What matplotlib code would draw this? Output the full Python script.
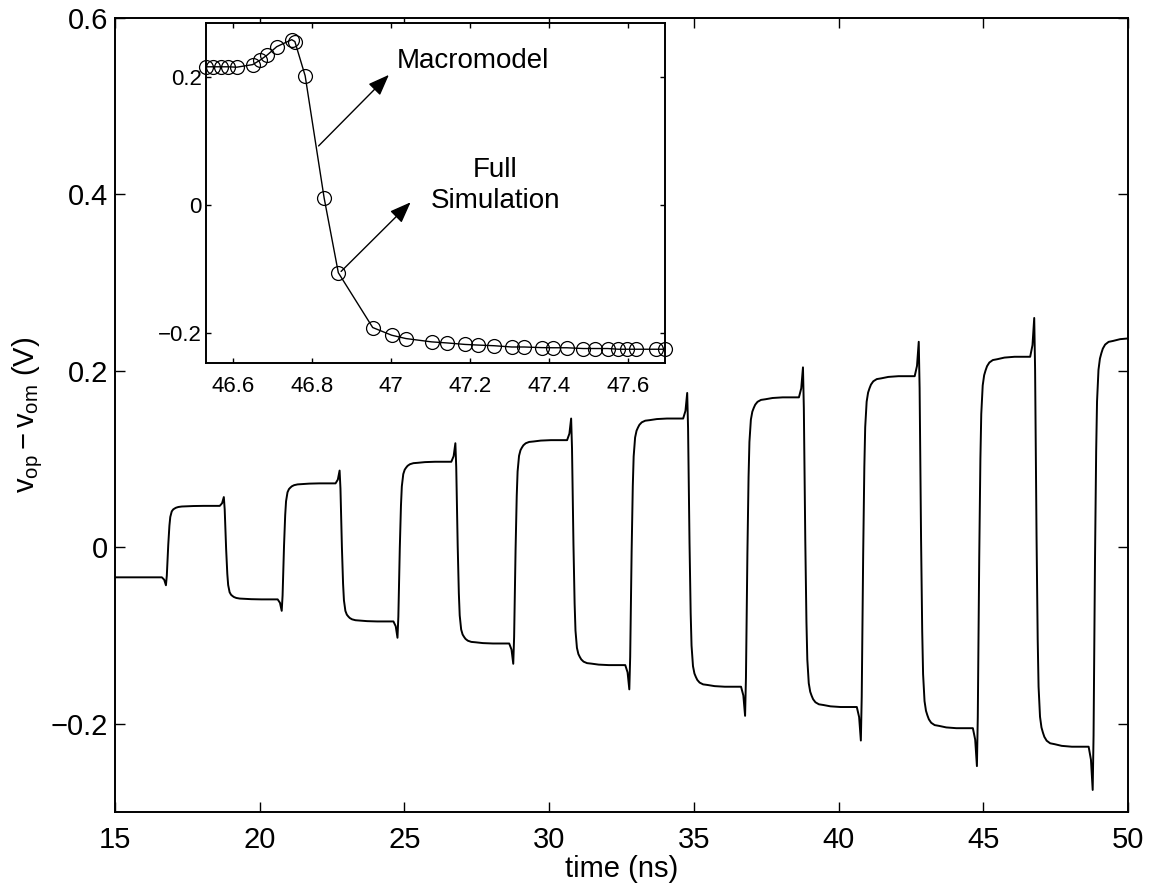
import numpy as np
import matplotlib
matplotlib.use('Agg')
import matplotlib.pyplot as plt

plt.rcParams['font.family'] = ['Liberation Sans', 'DejaVu Sans']
plt.rcParams['mathtext.fontset'] = 'custom'
plt.rcParams['mathtext.rm'] = 'Liberation Sans'
plt.rcParams['mathtext.it'] = 'Liberation Sans'

# main waveform: start level, switching edges, spike at each edge, settled level after it
start_level = -0.034
edge_t = [16.76, 18.76, 20.76, 22.76, 24.76, 26.76, 28.76, 30.76, 32.77,
          34.77, 36.77, 38.77, 40.77, 42.77, 44.78, 46.76, 48.78]
spike_v = [-0.043, 0.057, -0.072, 0.087, -0.1025, 0.118, -0.132, 0.146, -0.161,
           0.175, -0.191, 0.204, -0.219, 0.233, -0.248, 0.260, -0.275]
level_v = [0.047, -0.059, 0.0725, -0.084, 0.097, -0.109, 0.1215, -0.1335, 0.146,
           -0.158, 0.170, -0.181, 0.194, -0.205, 0.216, -0.226, 0.237]

# settling after an edge (ns after spike, fraction of the step done)
settle_dt = [0.03, 0.06, 0.08, 0.10, 0.12, 0.15, 0.20, 0.25, 0.30, 0.35, 0.43,
             0.55, 0.70, 0.95, 1.30, 1.80]
settle_frac = [0.12, 0.36, 0.51, 0.63, 0.75, 0.86, 0.93, 0.955, 0.967, 0.977,
               0.986, 0.992, 0.994, 0.998, 1.0, 1.0]

# inset: zoom on the edge near 46.8 ns
inset_t = [46.532, 46.550, 46.569, 46.588, 46.610, 46.650, 46.669, 46.687, 46.711,
           46.749, 46.757, 46.783, 46.831, 46.867, 46.954, 47.002, 47.038, 47.103,
           47.141, 47.188, 47.221, 47.261, 47.306, 47.338, 47.382, 47.411, 47.445,
           47.487, 47.517, 47.549, 47.576, 47.597, 47.620, 47.670, 47.694]
inset_v = [0.2156, 0.2156, 0.2156, 0.2156, 0.215, 0.219, 0.226, 0.234, 0.247,
           0.258, 0.255, 0.2016, 0.011, -0.106, -0.1916, -0.2036, -0.2088, -0.214,
           -0.2156, -0.218, -0.219, -0.220, -0.222, -0.222, -0.223, -0.2232, -0.2232,
           -0.2244, -0.2244, -0.2244, -0.2255, -0.2255, -0.2255, -0.2255, -0.2255]

main_xticks = [15, 20, 25, 30, 35, 40, 45, 50]
main_yticks = [-0.2, 0, 0.2, 0.4, 0.6]
main_ylabels = ['\u22120.2', '0', '0.2', '0.4', '0.6']
inset_xticks = [46.6, 46.8, 47.0, 47.2, 47.4, 47.6]
inset_xlabels = ['46.6', '46.8', '47', '47.2', '47.4', '47.6']
inset_yticks = [-0.2, 0, 0.2]
inset_ylabels = ['\u22120.2', '0', '0.2']

# build the waveform polyline
t_pts = [15.0]
v_pts = [start_level]
prev = start_level
for k, te in enumerate(edge_t):
	s = spike_v[k]
	new = level_v[k]
	t_pts += [te - 0.14, te - 0.06, te]
	v_pts += [prev, prev + 0.3 * (s - prev), s]
	t_end = edge_t[k + 1] - 0.14 if k + 1 < len(edge_t) else 50.0
	for dt, f in zip(settle_dt, settle_frac):
		if te + dt >= t_end:
			break
		t_pts.append(te + dt)
		v_pts.append(s + f * (new - s))
	if k + 1 == len(edge_t):
		f = np.interp(50.0 - te, settle_dt, settle_frac)
		t_pts.append(50.0)
		v_pts.append(s + f * (new - s))
	prev = new

fig = plt.figure(figsize=(11.6, 8.9), dpi=100)
ax = fig.add_axes([115 / 1160, 78 / 890, 1013 / 1160, 794 / 890])
ax.plot(t_pts, v_pts, color='k', lw=1.4)
ax.set_xlim(15, 50)
ax.set_ylim(-0.3, 0.6)
ax.set_xticks(main_xticks)
ax.set_yticks(main_yticks)
ax.set_yticklabels(main_ylabels)
ax.tick_params(direction='in', length=7, width=1, top=True, right=True, labelsize=21)
ax.tick_params(axis='x', pad=10)
ax.tick_params(axis='y', pad=5)
for sp in ax.spines.values():
	sp.set_linewidth(1.4)
ax.set_xlabel('time (ns)', fontsize=21, labelpad=1)
ax.set_ylabel(r'$\mathregular{v_{op} - v_{om}}$ (V)', fontsize=21, labelpad=4)

# inset
axi = fig.add_axes([206 / 1160, 527 / 890, 459 / 1160, 340 / 890])
axi.set_facecolor('white')
axi.plot(inset_t, inset_v, color='k', lw=1.0)
axi.plot(inset_t, inset_v, 'o', color='k', mfc='none', ms=10, mew=0.9, clip_on=False)
axi.set_xlim(46.532, 47.694)
axi.set_ylim(-0.247, 0.284)
axi.set_xticks(inset_xticks)
axi.set_xticklabels(inset_xlabels)
axi.set_yticks(inset_yticks)
axi.set_yticklabels(inset_ylabels)
axi.tick_params(direction='in', length=3.5, width=1, top=True, right=True, labelsize=16)
axi.tick_params(axis='x', pad=9)
axi.tick_params(axis='y', pad=3)
for sp in axi.spines.values():
	sp.set_linewidth(1.4)

arrow_kw = dict(arrowstyle='-|>,head_length=0.65,head_width=0.25', mutation_scale=20,
                color='k', lw=1.0, shrinkA=0, shrinkB=0)
axi.annotate('', xy=(46.995, 0.203), xytext=(46.817, 0.092), arrowprops=arrow_kw)
axi.annotate('', xy=(47.05, 0.004), xytext=(46.874, -0.104), arrowprops=arrow_kw)
axi.text(47.016, 0.224, 'Macromodel', fontsize=20, ha='left', va='center')
axi.text(47.265, 0.030, 'Full\nSimulation', fontsize=20, ha='center', va='center',
         linespacing=1.25)

fig.savefig('out.png', dpi=100)
